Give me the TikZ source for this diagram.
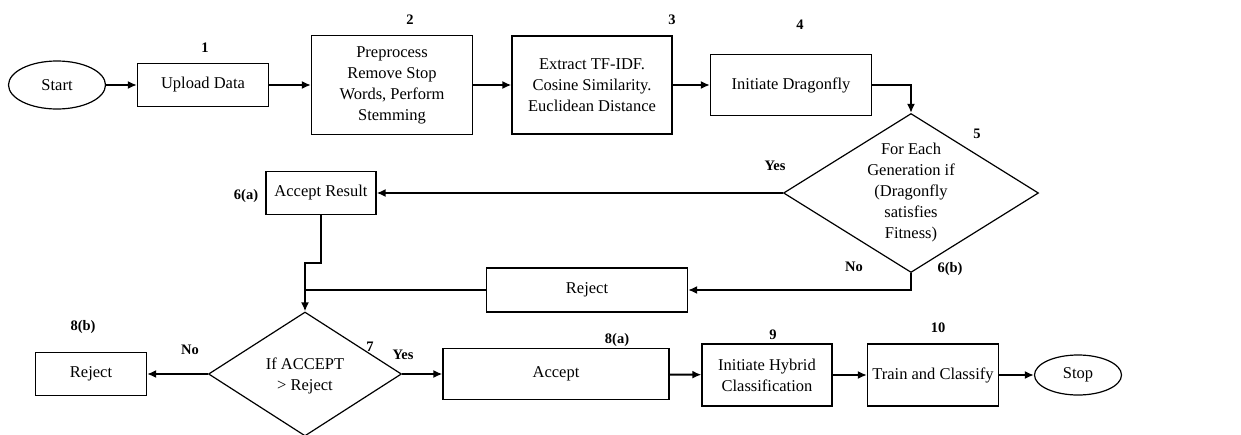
\documentclass[tikz,border=0pt]{standalone}
\usepackage{fontspec}
\setmainfont{Liberation Serif}
\usetikzlibrary{arrows.meta,shapes.geometric}

\begin{document}
\begin{tikzpicture}[x=1pt,y=-1pt,>={Latex[length=9pt,width=8pt]},
  font=\fontsize{16.5}{21}\selectfont,
  box/.style={draw,line width=1.2pt,align=center,inner sep=2pt},
  term/.style={draw,ellipse,line width=1.2pt,inner sep=0pt},
  cond/.style={draw,diamond,line width=1.2pt,inner sep=0pt},
  num/.style={font=\fontsize{14.5}{17}\selectfont\bfseries},
  flow/.style={->,line width=2pt}]
  \useasboundingbox (0,0) rectangle (1241,434);
  % top row
  \node[term,minimum width=97,minimum height=48] (start) at (57,85) {Start};
  \node[box,minimum width=131,minimum height=43] (upload) at (203,85) {Upload Data};
  \node[box,minimum width=161,minimum height=99] (prep) at (392,85) {Preprocess\\Remove Stop\\Words, Perform\\Stemming};
  \node[box,minimum width=160,minimum height=98] (extract) at (592,85) {Extract TF-IDF.\\Cosine Similarity.\\Euclidean Distance};
  \node[box,minimum width=161,minimum height=61] (dragon) at (791,85) {Initiate Dragonfly};
  % fitness test
  \node[cond,minimum width=255,minimum height=159,
    label={[align=center]center:For Each\\Generation if\\(Dragonfly\\satisfies\\Fitness)}] (fit) at (911,193) {};
  \node[box,minimum width=110,minimum height=43] (accres) at (321,193) {Accept Result};
  \node[box,minimum width=201,minimum height=44] (rejmid) at (587,290) {Reject};
  \coordinate (join) at (305,290);
  % bottom row
  \node[cond,minimum width=193,minimum height=124,
    label={[align=center,yshift=-2pt]center:If ACCEPT\\> Reject}] (vote) at (305,374) {};
  \node[box,minimum width=111,minimum height=43] (rejleft) at (91,374) {Reject};
  \node[box,minimum width=226,minimum height=51] (accept) at (556,374) {Accept};
  \node[box,minimum width=130,minimum height=62] (hybrid) at (767,375) {Initiate Hybrid\\Classification};
  \node[box,minimum width=131,minimum height=62] (train) at (933,375) {Train and Classify};
  \node[term,minimum width=87,minimum height=40] (stop) at (1078,375) {Stop};
  % step numbers
  \node[num] (n1) at (205,48) {1};
  \node[num] (n2) at (410,20) {2};
  \node[num] (n3) at (672,20) {3};
  \node[num] (n4) at (800,25) {4};
  \node[num] (n5) at (977,134) {5};
  \node[num] (n6a) at (246,196) {6(a)};
  \node[num] (n6b) at (950,269) {6(b)};
  \node[num] (n7) at (370,347) {7};
  \node[num] (n8a) at (617,340) {8(a)};
  \node[num] (n8b) at (83,327) {8(b)};
  \node[num] (n9) at (773,335) {9};
  \node[num] (n10) at (938,328) {10};
  \node[num] (yes5) at (775,166) {Yes};
  \node[num] (no5) at (854,267) {No};
  \node[num] (yes7) at (403,355) {Yes};
  \node[num] (no7) at (190,350) {No};
  % connectors
  \draw[flow] (start) -- (upload);
  \draw[flow] (upload) -- (prep);
  \draw[flow] (prep) -- (extract);
  \draw[flow] (extract) -- (dragon);
  \draw[flow] (dragon.east) -| (fit.north);
  \draw[flow] (fit.west) -- (accres.east);
  \draw[flow] (fit.south) |- (rejmid.east);
  \draw[line width=2pt] (rejmid.west) -- (join);
  \draw[flow] (accres.south) -- ++(0,48) -| (vote.north);
  \draw[flow] (vote.west) -- (rejleft.east);
  \draw[flow] (vote.east) -- (accept.west);
  \draw[flow] (accept) -- (hybrid);
  \draw[flow] (hybrid) -- (train);
  \draw[flow] (train) -- (stop);
\end{tikzpicture}
\end{document}
